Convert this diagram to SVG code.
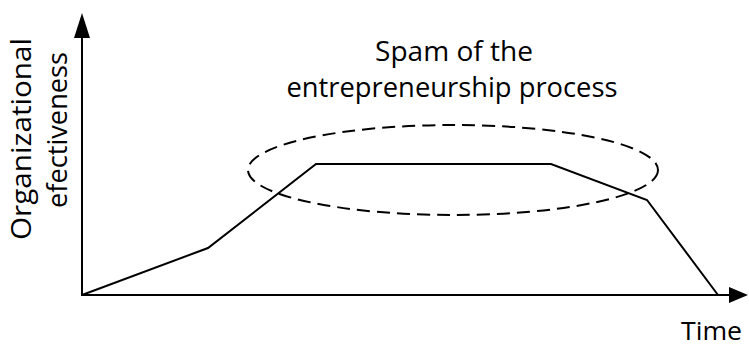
<svg xmlns="http://www.w3.org/2000/svg" width="749" height="347" viewBox="0 0 749 347">
  <style>
    .axis { stroke: #000; stroke-width: 2; fill: none; }
    .curve { stroke: #000; stroke-width: 2; fill: none; stroke-linejoin: miter; }
    .span { stroke: #000; stroke-width: 2; fill: none; stroke-dasharray: 13 7; }
    .head { fill: #000; stroke: none; }
    text { font-family: "Open Sans", "Liberation Sans", sans-serif; font-size: 28px; fill: #000; }
    .small { font-size: 25px; }
  </style>

  <!-- axes -->
  <g id="connectors">
    <line class="axis" x1="82" y1="296" x2="82" y2="36"/>
    <polygon class="head" points="82,13 74,38 90,38"/>
    <line class="axis" x1="81" y1="295" x2="731" y2="295"/>
    <polygon class="head" points="748,295 729,287 729,303"/>
    <!-- effectiveness over time -->
    <polyline class="curve" points="82,295 208,248 316,164 551,164 647,200 718,295"/>
  </g>

  <!-- span of the process -->
  <g id="span">
    <ellipse class="span" cx="453" cy="170" rx="205" ry="45"/>
    <text x="454" y="61" text-anchor="middle" textLength="158" lengthAdjust="spacingAndGlyphs">Spam of the</text>
    <text x="452" y="97" text-anchor="middle" textLength="331" lengthAdjust="spacingAndGlyphs">entrepreneurship process</text>
  </g>

  <!-- axis labels -->
  <g id="y-label">
    <text transform="translate(31,139) rotate(-90)" text-anchor="middle" textLength="202" lengthAdjust="spacingAndGlyphs">Organizational</text>
    <text transform="translate(67,130) rotate(-90)" text-anchor="middle" textLength="156" lengthAdjust="spacingAndGlyphs">efectiveness</text>
  </g>
  <g id="x-label">
    <text class="small" x="681" y="340" textLength="61" lengthAdjust="spacingAndGlyphs">Time</text>
  </g>
</svg>
